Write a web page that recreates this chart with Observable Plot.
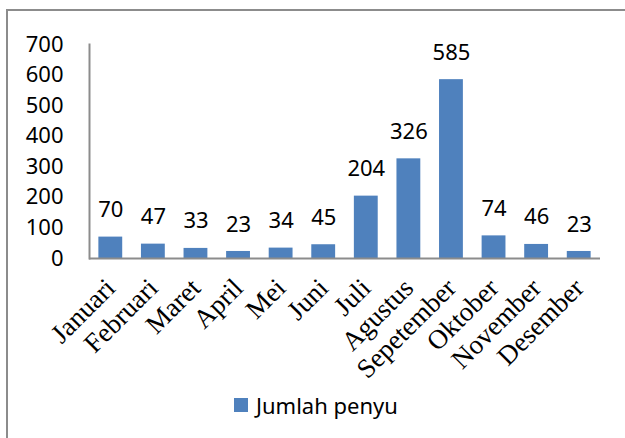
<!DOCTYPE html>
<html><head><meta charset="utf-8">
<script src="https://cdn.jsdelivr.net/npm/d3@7"></script>
<script src="https://cdn.jsdelivr.net/npm/@observablehq/plot@0.6"></script>
<style>
html,body{margin:0;padding:0;background:#fff;}
#wrap{position:relative;width:625px;height:438px;overflow:hidden;}
#border{position:absolute;left:6px;top:9px;width:640px;height:460px;border-left:2px solid #8c8c8c;border-top:2px solid #8c8c8c;box-sizing:border-box;}
#chart{position:absolute;left:0;top:0;}
#legend{position:absolute;left:234px;top:390px;font-family:"Noto Sans",sans-serif;font-size:22px;color:#000;display:flex;align-items:center;}
#legend .sw{width:14px;height:14px;background:#4F81BD;margin-right:8px;}
</style>
</head><body>
<div id="wrap"><div id="border"></div><div id="chart"></div>
<div id="legend"><div class="sw"></div><span>Jumlah penyu</span></div></div>
<script>
const months = ["Januari","Februari","Maret","April","Mei","Juni","Juli","Agustus","Sepetember","Oktober","November","Desember"];
const values = [70,47,33,23,34,45,204,326,585,74,46,23];
const yTicks = [0,100,200,300,400,500,600,700];
const seriesName = "Jumlah penyu";
const data = months.map((m,i)=>({month:m, value:values[i]}));

const chart = Plot.plot({
  width: 625, height: 438,
  marginLeft: 89, marginRight: 25, marginTop: 44, marginBottom: 180,
  style: {background: "transparent", fontFamily: "'Noto Sans', sans-serif", fontSize: "22px", color: "#000"},
  x: {domain: months, paddingInner: 0.44, paddingOuter: 0.22, round: false, label: null},
  y: {domain: [0,700], label: null},
  marks: [
    Plot.axisY({ticks: yTicks, tickSize: 0, tickPadding: 26, fontSize: 22, label: null, fontFamily: "'Noto Sans', sans-serif"}),
    Plot.axisX({tickSize: 0, tickRotate: -45, textAnchor: "end", fontFamily: "'Liberation Serif', serif", fontSize: 27, tickPadding: 25, label: null}),
    Plot.barY(data, {x: "month", y: "value", fill: "#4F81BD"}),
    Plot.text(data, {x: "month", y: "value", text: d => String(d.value), dy: -27, fontSize: 22, fill: "#000"}),
    Plot.ruleY([0], {stroke: "#8c8c8c", strokeWidth: 2}),
    Plot.frame({anchor: "left", stroke: "#8c8c8c", strokeWidth: 2})
  ]
});
document.getElementById("chart").appendChild(chart);
</script>
</body></html>
